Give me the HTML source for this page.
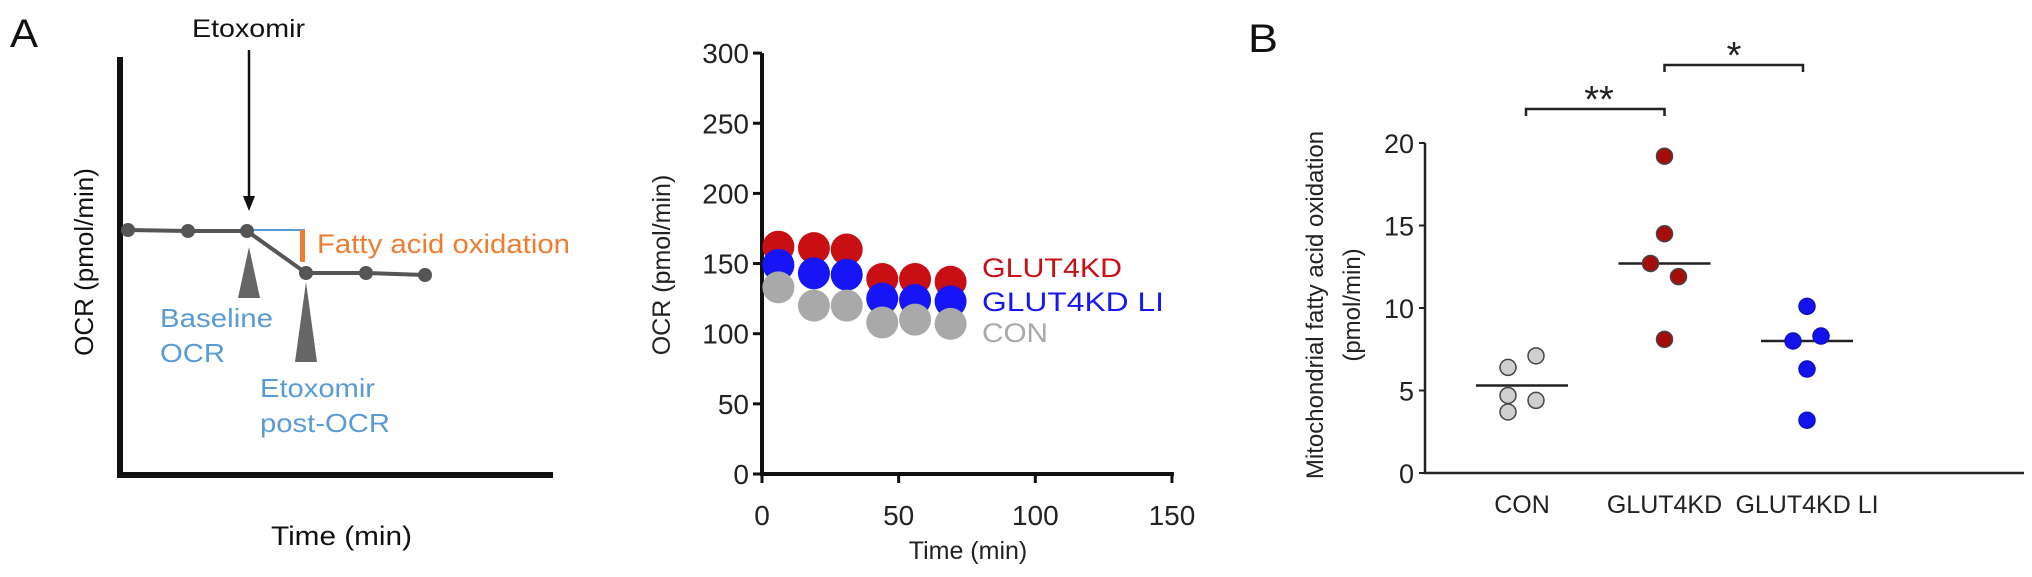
<!DOCTYPE html>
<html><head><meta charset="utf-8"><style>
html,body{margin:0;padding:0;background:#fff;}
svg{display:block;font-family:"Liberation Sans",Arial,sans-serif;}
</style></head><body>
<svg id="fig" width="2032" height="577" viewBox="0 0 2032 577" xmlns="http://www.w3.org/2000/svg">
<g>
<text x="10" y="47" font-size="40" fill="#111" textLength="28" lengthAdjust="spacingAndGlyphs">A</text>
<text x="192" y="37" font-size="25" fill="#111" textLength="113" lengthAdjust="spacingAndGlyphs">Etoxomir</text>
<line x1="249" y1="50" x2="249" y2="200" stroke="#111" stroke-width="2.5"/>
<polygon points="243,196 255,196 249,211" fill="#111"/>
<line x1="120" y1="57" x2="120" y2="477" stroke="#111" stroke-width="6"/>
<line x1="117" y1="475" x2="553" y2="475" stroke="#111" stroke-width="6"/>
<line x1="247" y1="230" x2="305" y2="230" stroke="#5b9bd5" stroke-width="2"/>
<rect x="300" y="230" width="5" height="32" fill="#ed7d31"/>
<polyline points="128,230 188,231 247,231 306,273 366,273 425,275" fill="none" stroke="#555" stroke-width="4"/>
<g fill="#555">
<circle cx="128" cy="230" r="7"/><circle cx="188" cy="231" r="7"/><circle cx="247" cy="231" r="7"/>
<circle cx="306" cy="273" r="7"/><circle cx="366" cy="273" r="7"/><circle cx="425" cy="275" r="7"/>
</g>
<polygon points="249,247 238,298 260,298" fill="#666"/>
<polygon points="306,282 295,362 317,362" fill="#666"/>
<text x="317" y="253" font-size="27" fill="#ed7d31" textLength="253" lengthAdjust="spacingAndGlyphs">Fatty acid oxidation</text>
<text x="160" y="327" font-size="26" fill="#5b9bd5" textLength="113" lengthAdjust="spacingAndGlyphs">Baseline</text>
<text x="160" y="362" font-size="26" fill="#5b9bd5" textLength="65" lengthAdjust="spacingAndGlyphs">OCR</text>
<text x="260" y="397" font-size="26" fill="#5b9bd5" textLength="115" lengthAdjust="spacingAndGlyphs">Etoxomir</text>
<text x="260" y="432" font-size="26" fill="#5b9bd5" textLength="130" lengthAdjust="spacingAndGlyphs">post-OCR</text>
<text x="271" y="545" font-size="27" fill="#111" textLength="141" lengthAdjust="spacingAndGlyphs">Time (min)</text>
<text transform="translate(93,262) rotate(-90)" text-anchor="middle" font-size="26" fill="#111">OCR (pmol/min)</text>
</g>
<g id="ocr"></g>
<g id="fao"></g>
</svg>
<script>
// OCR time-course data
const ocrTimes = [6, 19, 31, 44, 56, 69];
const ocrCon = [133, 120, 120, 108, 110, 107];
const ocrLI = [149, 143, 142, 125, 124, 123];
const ocrKD = [162, 161, 160, 139, 139, 137];
const ocrYTicks = [0, 50, 100, 150, 200, 250, 300];
const ocrXTicks = [0, 50, 100, 150];
// FAO dot plot data
const faoCategories = ["CON", "GLUT4KD", "GLUT4KD LI"];
const faoCon = [6.4, 7.1, 4.7, 4.4, 3.7];
const faoKD = [19.2, 14.5, 12.7, 11.9, 8.1];
const faoLI = [10.1, 8.0, 8.3, 6.3, 3.2];
const faoMedians = [5.3, 12.7, 8.0];
const faoYTicks = [0, 5, 10, 15, 20];

const NS = "http://www.w3.org/2000/svg";
function mk(parent, tag, attrs, text) {
  const e = document.createElementNS(NS, tag);
  for (const k in attrs) e.setAttribute(k, attrs[k]);
  if (text !== undefined) e.textContent = text;
  parent.appendChild(e);
  return e;
}
// ---- OCR chart ----
const g1 = document.getElementById("ocr");
const ox = t => 762 + t * 2.733;
const oy = v => 474 - v * 1.403;
let el;
el = mk(g1, "line", {x1: ox(0), y1: oy(300), x2: ox(0), y2: oy(0) + 2, stroke: "#111", "stroke-width": 4});


el = mk(g1, "line", {x1: ox(0) - 2, y1: oy(0), x2: ox(150) + 2, y2: oy(0), stroke: "#111", "stroke-width": 4});


ocrYTicks.forEach(v => {
  el = mk(g1, "line", {x1: ox(0) - 9, y1: oy(v), x2: ox(0), y2: oy(v), stroke: "#111", "stroke-width": 3});
  
  
  el = mk(g1, "text", {x: ox(0) - 13, y: oy(v) + 10, "font-size": 28, "text-anchor": "end", fill: "#222"}, v);
  
  
});
ocrXTicks.forEach(v => {
  el = mk(g1, "line", {x1: ox(v), y1: oy(0), x2: ox(v), y2: oy(0) + 9, stroke: "#111", "stroke-width": 3});
  
  
  el = mk(g1, "text", {x: ox(v), y: 525, "font-size": 28, "text-anchor": "middle", fill: "#222"}, v);
  
  
});
el = mk(g1, "text", {x: 968, y: 559, "font-size": 25, "text-anchor": "middle", fill: "#222"}, "Time (min)");


el = mk(g1, "text", {transform: "translate(670,265) rotate(-90)", "font-size": 25, "text-anchor": "middle", fill: "#222"}, "OCR (pmol/min)");


[[ocrKD, "#c80f14", "kd"], [ocrLI, "#1515f5", "li"], [ocrCon, "#a9a9a9", "con"]].forEach(s => {
  s[0].forEach((v, i) => {
    el = mk(g1, "circle", {cx: ox(ocrTimes[i]), cy: oy(v), r: 16, fill: s[1]});
    
    
  });
});
[["GLUT4KD", "#c80f14", 277, 140], ["GLUT4KD LI", "#1515f5", 311, 182], ["CON", "#a9a9a9", 342, 66]].forEach(l => {
  el = mk(g1, "text", {x: 982, y: l[2], "font-size": 27, fill: l[1], textLength: l[3], lengthAdjust: "spacingAndGlyphs"}, l[0]);
  
  
});
// ---- FAO chart ----
const g2 = document.getElementById("fao");
const fx = i => 1522 + i * 142.5;
const fy = v => 473 - v * 16.5;
el = mk(g2, "text", {x: 1248, y: 52, "font-size": 40, fill: "#111", textLength: 30, lengthAdjust: "spacingAndGlyphs"}, "B");


el = mk(g2, "line", {x1: 1425, y1: fy(20), x2: 1425, y2: fy(0), stroke: "#222", "stroke-width": 2.5});


el = mk(g2, "line", {x1: 1424, y1: fy(0), x2: 2024, y2: fy(0), stroke: "#222", "stroke-width": 2.5});


faoYTicks.forEach(v => {
  el = mk(g2, "line", {x1: 1419, y1: fy(v), x2: 1425, y2: fy(v), stroke: "#222", "stroke-width": 2});
  
  
  el = mk(g2, "text", {x: 1414, y: fy(v) + 10, "font-size": 27, "text-anchor": "end", fill: "#222"}, v);
  
  
});
faoCategories.forEach((c, i) => {
  el = mk(g2, "text", {x: fx(i), y: 513, "font-size": 25, "text-anchor": "middle", fill: "#222"}, c);
  
  
});
el = mk(g2, "text", {transform: "translate(1323,305) rotate(-90)", "font-size": 24, "text-anchor": "middle", fill: "#222"}, "Mitochondrial fatty acid oxidation");


el = mk(g2, "text", {transform: "translate(1360,305) rotate(-90)", "font-size": 24, "text-anchor": "middle", fill: "#222"}, "(pmol/min)");


const offs = [[-14, 14, -14, 14, -14], [0, 0, -14, 14, 0], [0, -14, 14, 0, 0]];
[[faoCon, "#cfcfcf", "con"], [faoKD, "#a50d0d", "kd"], [faoLI, "#1212ee", "li"]].forEach((s, gi) => {
  el = mk(g2, "line", {x1: fx(gi) - 46, y1: fy(faoMedians[gi]), x2: fx(gi) + 46, y2: fy(faoMedians[gi]), stroke: "#222", "stroke-width": 2.5});
  
  
  s[0].forEach((v, i) => {
    el = mk(g2, "circle", {cx: fx(gi) + offs[gi][i], cy: fy(v), r: 8, fill: s[1], stroke: gi === 2 ? "#1010c0" : "#444", "stroke-width": 1.5});
    
    
  });
});
el = mk(g2, "path", {d: `M${fx(0)+4},116 V109 H${fx(1)} V116`, fill: "none", stroke: "#222", "stroke-width": 2.5});


el = mk(g2, "text", {x: 1599, y: 112, "font-size": 38, "text-anchor": "middle", fill: "#222"}, "**");


el = mk(g2, "path", {d: `M${fx(1)},72 V65 H${fx(2)-4} V72`, fill: "none", stroke: "#222", "stroke-width": 2.5});


el = mk(g2, "text", {x: 1734, y: 68, "font-size": 38, "text-anchor": "middle", fill: "#222"}, "*");


</script>
</body></html>
